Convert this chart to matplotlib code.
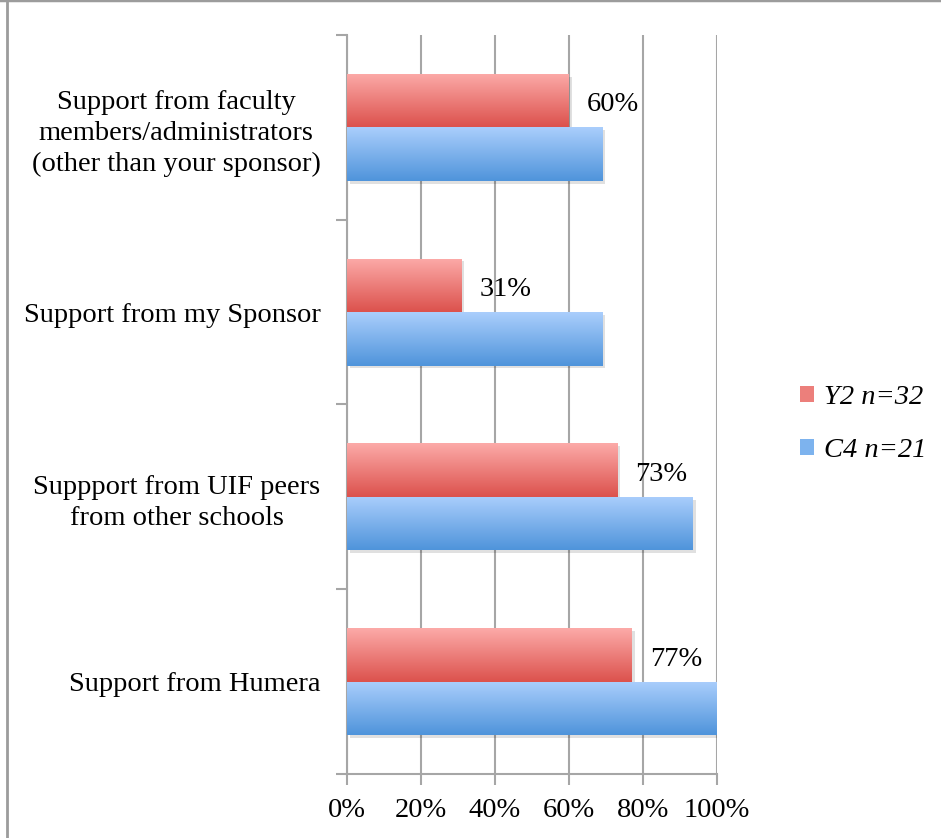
import numpy as np
import matplotlib
matplotlib.use("Agg")
import matplotlib.pyplot as plt
import matplotlib.patheffects as pe
from matplotlib.colors import LinearSegmentedColormap
from matplotlib.lines import Line2D
from matplotlib.patches import Patch

plt.rcParams['font.family'] = ['Liberation Serif', 'DejaVu Serif']

# data
categories = ['Support from faculty\nmembers/administrators\n(other than your sponsor)',
              'Support from my Sponsor',
              'Suppport from UIF peers\nfrom other schools',
              'Support from Humera']
y2_values = [60, 31, 73, 77]
c4_values = [69, 69, 93.5, 100]
series_names = ['Y2 n=32', 'C4 n=21']

red_top, red_bot = '#fcaaa8', '#dc524d'
blue_top, blue_bot = '#aacefc', '#4f94db'
grid_col = '#a6a6a6'
fs = 20.5

fig = plt.figure(figsize=(9.41, 8.38), dpi=100)
ax = fig.add_axes([347 / 941, 1 - 774 / 838, 370 / 941, (774 - 35) / 838])

ypos = np.arange(len(categories))[::-1]
h = 0.29
off = 0.145

shadow = [pe.SimplePatchShadow(offset=(2, -2), alpha=0.12, shadow_rgbFace='black'), pe.Normal()]
red_bars = ax.barh(ypos + off, y2_values, height=h, color=red_bot, zorder=3, path_effects=shadow)
blue_bars = ax.barh(ypos - off, c4_values, height=h, color=blue_bot, zorder=3, path_effects=shadow)

# vertical gradient fill, clipped to each bar
grad = np.linspace(0, 1, 100).reshape(-1, 1)
for bars, top, bot in [(red_bars, red_top, red_bot), (blue_bars, blue_top, blue_bot)]:
    cmap = LinearSegmentedColormap.from_list('g', [top, bot])
    for b in bars:
        x0, y0 = b.get_x(), b.get_y()
        w, hh = b.get_width(), b.get_height()
        im = ax.imshow(grad, cmap=cmap, aspect='auto', extent=(x0, x0 + w, y0, y0 + hh),
                       origin='upper', zorder=4)
        im.set_clip_path(b)

for b, v in zip(red_bars, y2_values):
    ax.annotate(f'{v}%', (b.get_width(), b.get_y() + b.get_height() / 2),
                xytext=(13, -3), textcoords='offset points', ha='left', va='center',
                fontsize=fs, zorder=5)

ax.set_xlim(0, 100)
ax.set_ylim(-0.5, len(categories) - 0.5)
ax.set_xticks(range(0, 101, 20))
ax.set_xticklabels([f'{t}%' for t in range(0, 101, 20)], fontsize=fs)
ax.set_yticks(ypos)
ax.set_yticklabels(categories, fontsize=fs, multialignment='center', linespacing=1.3)
ax.set_yticks(np.arange(-0.5, len(categories)), minor=True)
ax.tick_params(axis='y', which='major', length=0, pad=19)
ax.tick_params(axis='y', which='minor', length=8, width=1.5, color=grid_col)
ax.tick_params(axis='x', length=8, width=1.5, color=grid_col, pad=9)

ax.xaxis.grid(True, color=grid_col, linewidth=1.5, zorder=0)
ax.set_axisbelow(True)
for s in ['top', 'right']:
    ax.spines[s].set_visible(False)
for s in ['left', 'bottom']:
    ax.spines[s].set_color(grid_col)
    ax.spines[s].set_linewidth(1.5)

handles = [Patch(facecolor='#ec7f7b'), Patch(facecolor='#7db3ee')]
fig.legend(handles, series_names, loc='center left', bbox_to_anchor=(800 / 941, 1 - 424 / 838),
           frameon=False, borderpad=0, borderaxespad=0, handlelength=0.5, handleheight=0.5,
           handletextpad=0.35, labelspacing=1.0, prop={'size': fs, 'style': 'italic'})

# outer frame (top and left edges)
fig.add_artist(Line2D([0, 1], [0.9995, 0.9995], color='#9c9c9c', linewidth=2.5, transform=fig.transFigure))
fig.add_artist(Line2D([7 / 941, 7 / 941], [0, 1], color='#9c9c9c', linewidth=2, transform=fig.transFigure))

fig.savefig('out.png', dpi=100)
